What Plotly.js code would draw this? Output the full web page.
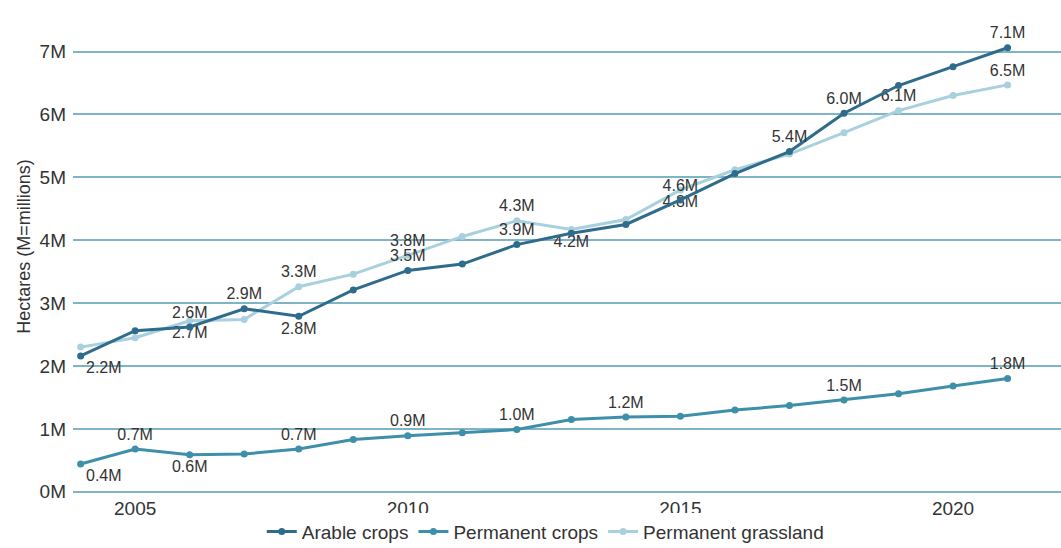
<!DOCTYPE html>
<html>
<head>
<meta charset="utf-8">
<script src="https://cdn.plot.ly/plotly-3.0.1.min.js"></script>
<style>html,body{margin:0;padding:0;background:#fff;}#chart{width:1061px;height:548px;}</style>
</head>
<body>
<div id="chart"></div>
<script>
// ---- data (millions of hectares) ----
const years = [2004,2005,2006,2007,2008,2009,2010,2011,2012,2013,2014,2015,2016,2017,2018,2019,2020,2021];
const arableCrops = [2.16,2.56,2.62,2.91,2.79,3.21,3.52,3.62,3.93,4.11,4.25,4.64,5.06,5.41,6.02,6.46,6.76,7.06];
const permanentCrops = [0.44,0.68,0.59,0.60,0.68,0.83,0.89,0.94,0.99,1.15,1.19,1.20,1.30,1.37,1.46,1.56,1.68,1.80];
const permanentGrassland = [2.30,2.45,2.72,2.74,3.26,3.46,3.76,4.06,4.31,4.17,4.33,4.80,5.12,5.37,5.71,6.06,6.30,6.47];
const seriesNames = ['Arable crops','Permanent crops','Permanent grassland'];
const xTickVals = [2005,2010,2015,2020];
const yTickVals = [0,1,2,3,4,5,6,7];
const yTickText = ['0M','1M','2M','3M','4M','5M','6M','7M'];

// years that carry a value label, and where the label sits
const arableLabels = {2004:'bottom right',2006:'top center',2007:'top center',2008:'bottom center',2010:'top center',2012:'top center',2015:'top center',2017:'top center',2018:'top center',2021:'top center'};
const permLabels = {2004:'bottom right',2005:'top center',2006:'bottom center',2008:'top center',2010:'top center',2012:'top center',2014:'top center',2018:'top center',2021:'top center'};
const grassLabels = {2006:'bottom center',2008:'top center',2010:'top center',2012:'top center',2013:'bottom center',2015:'bottom center',2019:'top center',2021:'top center'};

function labelText(vals, cfg){ return years.map((y,i)=> cfg[y] ? (Math.round(vals[i]*10)/10).toFixed(1)+'M' : ''); }
function labelPos(cfg){ return years.map(y=> cfg[y]||'top center'); }

const colors = ['#2f6c8c','#3e8fa9','#a9d0de'];
const FAM = 'Liberation Sans, Arial, sans-serif';
const TXT = '#333333';

function mk(name, vals, cfg, color){
  return {
    x: years, y: vals, name: name, type:'scatter', mode:'lines+markers+text',
    line:{color:color, width:3}, marker:{color:color, size:7},
    text: labelText(vals,cfg), textposition: labelPos(cfg),
    textfont:{family:FAM, size:16, color:TXT},
    cliponaxis:false, hoverinfo:'skip'
  };
}

const data = [
  mk(seriesNames[2], permanentGrassland, grassLabels, colors[2]),
  mk(seriesNames[1], permanentCrops, permLabels, colors[1]),
  mk(seriesNames[0], arableCrops, arableLabels, colors[0])
];

const layout = {
  width:1061, height:548,
  margin:{l:73, r:0, t:0, b:55, autoexpand:false},
  paper_bgcolor:'#ffffff', plot_bgcolor:'#ffffff',
  font:{family:FAM, size:19, color:TXT},
  showlegend:true,
  legend:{orientation:'h', x:0.478, xanchor:'center', yref:'container', y:0.03, yanchor:'middle', traceorder:'reversed',
    font:{family:FAM, size:19, color:TXT}, itemwidth:30, tracegroupgap:0},
  xaxis:{range:[2003.86,2021.98], tickvals:xTickVals, ticktext:xTickVals.map(String), showgrid:false, zeroline:false, showline:false, ticks:'',
    tickfont:{size:19,color:TXT}, ticklabelstandoff:2, automargin:false},
  yaxis:{range:[-0.02,7.82], tickvals:yTickVals, ticktext:yTickText, showgrid:true, gridcolor:'#7fb4c8', gridwidth:2, zeroline:false, showline:false, ticks:'',
    tickfont:{size:19,color:TXT}, ticklabelstandoff:6, automargin:false,
    title:{text:'Hectares (M=millions)', font:{size:18,color:TXT}, standoff:4}}
};

Plotly.newPlot('chart', data, layout, {displayModeBar:false, staticPlot:true});
</script>
</body>
</html>
